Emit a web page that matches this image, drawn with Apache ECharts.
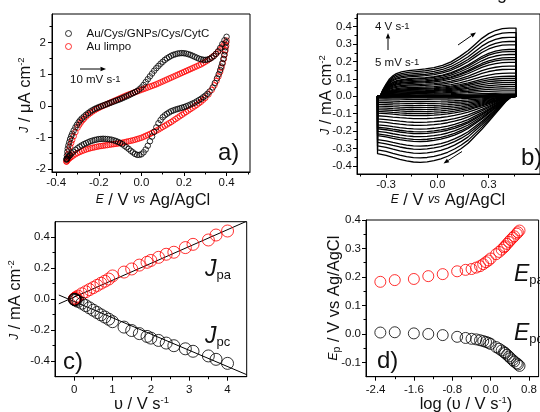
<!DOCTYPE html>
<html><head><meta charset="utf-8">
<script src="https://cdn.jsdelivr.net/npm/echarts@6/dist/echarts.min.js"></script>
<style>html,body{margin:0;padding:0;background:#fff}#c{width:540px;height:412px}</style>
</head><body><div id="c"></div>
<script>
// ---------- Panel a: CV at 10 mV/s (E / V, J / uA cm-2) ----------
const aBlackE = [-0.352,-0.350,-0.348,-0.346,-0.343,-0.339,-0.335,-0.330,-0.325,-0.318,-0.310,-0.303,-0.295,-0.288,-0.280,-0.270,-0.260,-0.250,-0.240,-0.230,-0.220,-0.210,-0.200,-0.190,-0.180,-0.170,-0.160,-0.150,-0.140,-0.130,-0.120,-0.110,-0.100,-0.090,-0.080,-0.070,-0.060,-0.050,-0.040,-0.030,-0.020,-0.010,0.000,0.010,0.020,0.030,0.040,0.050,0.060,0.070,0.080,0.090,0.100,0.110,0.120,0.130,0.140,0.150,0.160,0.170,0.180,0.190,0.200,0.210,0.220,0.230,0.240,0.250,0.260,0.270,0.280,0.290,0.300,0.310,0.320,0.330,0.340,0.350,0.360,0.370,0.380,0.390,0.400,
 0.398,0.395,0.392,0.389,0.385,0.380,0.375,0.370,0.363,0.355,0.345,0.335,0.320,0.310,0.300,0.290,0.280,0.270,0.260,0.250,0.240,0.230,0.220,0.210,0.200,0.190,0.180,0.170,0.160,0.150,0.140,0.130,0.120,0.110,0.100,0.090,0.080,0.070,0.060,0.050,0.040,0.030,0.020,0.010,0.000,-0.010,-0.020,-0.030,-0.040,-0.050,-0.060,-0.070,-0.080,-0.090,-0.100,-0.110,-0.120,-0.130,-0.140,-0.150,-0.160,-0.170,-0.180,-0.190,-0.200,-0.210,-0.220,-0.230,-0.240,-0.250,-0.260,-0.270,-0.280,-0.290,-0.300,-0.310,-0.320,-0.328,-0.335,-0.340,-0.345,-0.349,-0.352];
const aBlackJ = [-1.68,-1.57,-1.45,-1.35,-1.25,-1.15,-1.05,-0.96,-0.88,-0.78,-0.68,-0.60,-0.52,-0.46,-0.40,-0.34,-0.28,-0.23,-0.18,-0.14,-0.10,-0.07,-0.04,-0.015,0.01,0.035,0.06,0.085,0.11,0.135,0.16,0.185,0.21,0.24,0.27,0.30,0.33,0.365,0.40,0.435,0.47,0.52,0.58,0.66,0.75,0.84,0.93,1.02,1.11,1.19,1.26,1.33,1.39,1.45,1.50,1.54,1.58,1.61,1.63,1.65,1.66,1.665,1.66,1.65,1.63,1.61,1.58,1.55,1.52,1.49,1.47,1.455,1.45,1.46,1.48,1.52,1.57,1.64,1.72,1.83,1.95,2.07,2.18,
 2.00,1.85,1.72,1.60,1.48,1.35,1.24,1.13,1.00,0.87,0.72,0.58,0.45,0.38,0.32,0.27,0.22,0.18,0.14,0.10,0.07,0.04,0.01,-0.015,-0.04,-0.06,-0.08,-0.10,-0.12,-0.145,-0.17,-0.21,-0.25,-0.30,-0.36,-0.45,-0.55,-0.68,-0.82,-0.97,-1.12,-1.26,-1.38,-1.47,-1.53,-1.55,-1.55,-1.52,-1.47,-1.42,-1.36,-1.31,-1.26,-1.21,-1.17,-1.14,-1.11,-1.09,-1.07,-1.06,-1.05,-1.045,-1.04,-1.045,-1.05,-1.065,-1.08,-1.10,-1.12,-1.15,-1.18,-1.21,-1.25,-1.29,-1.34,-1.39,-1.45,-1.50,-1.55,-1.59,-1.63,-1.67,-1.70];
const aRedE = [-0.352,-0.348,-0.344,-0.340,-0.335,-0.330,-0.325,-0.318,-0.310,-0.300,-0.292,-0.285,-0.277,-0.270,-0.260,-0.250,-0.240,-0.230,-0.220,-0.210,-0.200,-0.190,-0.180,-0.170,-0.160,-0.150,-0.140,-0.130,-0.120,-0.110,-0.100,-0.090,-0.080,-0.070,-0.060,-0.050,-0.040,-0.030,-0.020,-0.010,0.000,0.010,0.020,0.030,0.040,0.050,0.060,0.070,0.080,0.090,0.100,0.110,0.120,0.130,0.140,0.150,0.160,0.170,0.180,0.190,0.200,0.210,0.220,0.230,0.240,0.250,0.260,0.270,0.280,0.290,0.300,0.310,0.320,0.330,0.340,0.350,0.360,0.370,0.380,0.390,0.400,
 0.398,0.395,0.391,0.387,0.382,0.376,0.370,0.362,0.353,0.343,0.330,0.315,0.300,0.290,0.280,0.270,0.260,0.250,0.240,0.230,0.220,0.210,0.200,0.190,0.180,0.170,0.160,0.150,0.140,0.130,0.120,0.110,0.100,0.090,0.080,0.070,0.060,0.050,0.040,0.030,0.020,0.010,0.000,-0.010,-0.020,-0.030,-0.040,-0.050,-0.060,-0.070,-0.080,-0.090,-0.100,-0.110,-0.120,-0.130,-0.140,-0.150,-0.160,-0.170,-0.180,-0.190,-0.200,-0.210,-0.220,-0.230,-0.240,-0.250,-0.260,-0.270,-0.280,-0.290,-0.300,-0.310,-0.320,-0.328,-0.335,-0.340,-0.345,-0.349,-0.352];
const aRedJ = [-1.76,-1.64,-1.52,-1.41,-1.29,-1.18,-1.08,-0.96,-0.83,-0.69,-0.60,-0.53,-0.46,-0.41,-0.34,-0.28,-0.23,-0.18,-0.14,-0.10,-0.065,-0.03,0.00,0.03,0.06,0.09,0.12,0.15,0.18,0.21,0.24,0.27,0.30,0.33,0.355,0.38,0.405,0.43,0.455,0.48,0.505,0.53,0.555,0.58,0.605,0.63,0.655,0.68,0.71,0.74,0.77,0.80,0.83,0.86,0.89,0.92,0.95,0.98,1.01,1.04,1.07,1.10,1.13,1.16,1.19,1.22,1.25,1.28,1.31,1.35,1.39,1.43,1.48,1.53,1.58,1.64,1.71,1.78,1.87,1.96,2.06,
 1.90,1.76,1.62,1.48,1.34,1.20,1.07,0.93,0.79,0.65,0.50,0.36,0.25,0.19,0.13,0.08,0.03,-0.015,-0.06,-0.105,-0.15,-0.195,-0.24,-0.285,-0.33,-0.375,-0.42,-0.465,-0.51,-0.55,-0.59,-0.63,-0.67,-0.71,-0.75,-0.785,-0.82,-0.855,-0.89,-0.92,-0.95,-0.98,-1.01,-1.03,-1.05,-1.07,-1.09,-1.105,-1.12,-1.135,-1.15,-1.165,-1.18,-1.19,-1.20,-1.21,-1.22,-1.23,-1.24,-1.25,-1.26,-1.27,-1.28,-1.295,-1.31,-1.325,-1.34,-1.36,-1.38,-1.405,-1.43,-1.46,-1.49,-1.53,-1.57,-1.61,-1.64,-1.67,-1.70,-1.73,-1.76];
const aXTicks = [-0.4,-0.2,0,0.2,0.4], aXMinor = [-0.3,-0.1,0.1,0.3,0.5];
const aYTicks = [-2,-1,0,1,2], aYMinor = [-1.5,-0.5,0.5,1.5,2.5];

// ---------- Panel b: CVs from 5 mV/s to 4 V/s (E / V, J / mA cm-2) ----------
// shape of the largest (4 V/s) voltammogram, anodic then cathodic branch
const bUpE = [-0.35,-0.335,-0.32,-0.30,-0.28,-0.26,-0.24,-0.21,-0.17,-0.12,-0.07,-0.02,0.03,0.08,0.13,0.18,0.22,0.26,0.30,0.34,0.38,0.42,0.46];
const bUpJ = [0,0,0.035,0.07,0.10,0.118,0.13,0.14,0.147,0.152,0.157,0.165,0.178,0.198,0.228,0.263,0.298,0.333,0.36,0.378,0.389,0.392,0.392];
const bDnE = [0.46,0.46,0.43,0.40,0.37,0.34,0.30,0.26,0.22,0.18,0.14,0.10,0.06,0.02,-0.02,-0.06,-0.10,-0.14,-0.18,-0.22,-0.26,-0.30,-0.35,-0.35];
const bDnJ = [0,0,-0.005,-0.03,-0.065,-0.10,-0.145,-0.19,-0.23,-0.27,-0.30,-0.325,-0.345,-0.36,-0.37,-0.377,-0.38,-0.378,-0.372,-0.363,-0.352,-0.34,-0.33,0];
// anodic plateau current of each voltammogram (5 mV/s ... 4 V/s)
const bPlateau = [0.002,0.003,0.005,0.010,0.018,0.031,0.043,0.055,0.067,0.079,0.091,0.103,0.115,0.133,0.155,0.173,0.195,0.211,0.222,0.240,0.257,0.269,0.296,0.315,0.339,0.366,0.392];
const bXTicks = [-0.3,0,0.3], bXMinor = [-0.45,-0.15,0.15,0.45];
const bYTicks = [-0.4,-0.3,-0.2,-0.1,0,0.1,0.2,0.3,0.4], bYMinor = [-0.35,-0.25,-0.15,-0.05,0.05,0.15,0.25,0.35,0.45];

// ---------- Panel c: peak currents vs scan rate ----------
const cV   = [0.005,0.01,0.025,0.05,0.1,0.2,0.3,0.4,0.5,0.6,0.7,0.8,0.9,1.0,1.3,1.5,1.7,1.9,2.0,2.2,2.4,2.6,2.9,3.1,3.5,3.7,4.0];
const cJpa = [0.002,0.003,0.006,0.011,0.020,0.035,0.048,0.062,0.075,0.089,0.103,0.116,0.130,0.150,0.175,0.195,0.220,0.238,0.250,0.270,0.290,0.303,0.333,0.354,0.382,0.414,0.440];
const cJpc = [-0.001,-0.002,-0.004,-0.007,-0.014,-0.026,-0.041,-0.056,-0.071,-0.086,-0.101,-0.115,-0.129,-0.145,-0.180,-0.202,-0.222,-0.240,-0.251,-0.266,-0.283,-0.300,-0.320,-0.336,-0.366,-0.388,-0.414];
const cFitV = [-0.4,4.5], cFitPa = [-0.030,0.503], cFitPc = [0.027,-0.487];
const cXTicks = [0,1,2,3,4], cXMinor = [0.5,1.5,2.5,3.5];
const cYTicks = [-0.4,-0.2,0,0.2,0.4], cYMinor = [-0.3,-0.1,0.1,0.3];

// ---------- Panel d: peak potentials vs log scan rate ----------
const dLogV = [-2.301,-2.0,-1.602,-1.301,-1.0,-0.699,-0.523,-0.398,-0.301,-0.222,-0.155,-0.097,-0.046,0.0,0.114,0.176,0.230,0.279,0.301,0.342,0.380,0.415,0.462,0.491,0.544,0.568,0.602];
const dEpa = [0.183,0.189,0.193,0.203,0.210,0.220,0.225,0.228,0.233,0.238,0.245,0.252,0.258,0.265,0.280,0.288,0.296,0.304,0.308,0.316,0.323,0.330,0.338,0.343,0.352,0.357,0.363];
const dEpc = [0.005,0.006,0.002,0.000,-0.004,-0.010,-0.014,-0.017,-0.019,-0.022,-0.025,-0.028,-0.031,-0.035,-0.046,-0.052,-0.058,-0.064,-0.067,-0.073,-0.079,-0.085,-0.092,-0.097,-0.103,-0.107,-0.112];
const dXTicks = [-2.4,-1.6,-0.8,0,0.8], dXMinor = [-2.0,-1.2,-0.4,0.4];
const dYTicks = [-0.1,0,0.1,0.2,0.3,0.4], dYMinor = [-0.05,0.05,0.15,0.25,0.35];

// ---------- build ----------
const FONT = 'Liberation Sans, Arial, Helvetica, sans-serif';
const RED = '#ff0000';
const zip = (a,b) => a.map((v,i)=>[v,b[i]]);
const f1 = v => (Math.abs(v)<1e-9?0:v).toFixed(1);
const f0 = v => String(Math.round(v));

function axes(dim, grid, min, max, majors, minors, fmt, margin){
  const pos = dim==='x' ? 'bottom' : 'left';
  return [{
    type:'value', gridIndex:grid, position:pos, min, max,
    axisLine:{show:true,onZero:false,lineStyle:{color:'#000',width:1}},
    axisTick:{show:true,inside:false,length:4,customValues:majors,lineStyle:{color:'#000',width:1}},
    axisLabel:{show:true,customValues:majors,margin,formatter:fmt,fontSize:11.5,color:'#111',fontFamily:FONT},
    splitLine:{show:false}
  },{
    type:'value', gridIndex:grid, position:pos, offset:0, min, max,
    axisLine:{show:false,onZero:false},
    axisTick:{show:true,inside:false,length:2.5,customValues:minors,lineStyle:{color:'#000',width:1}},
    axisLabel:{show:false}, splitLine:{show:false}
  }];
}

const xAxis = [
  ...axes('x',0,-0.42,0.51,aXTicks,aXMinor,f1,5),
  ...axes('x',1,-0.47,0.60,bXTicks,bXMinor,f1,5),
  ...axes('x',2,-0.5,4.5,cXTicks,cXMinor,f0,7),
  ...axes('x',3,-2.6,1.0,dXTicks,dXMinor,f1,7)
];
const yAxis = [
  ...axes('y',0,-2.09,2.9,aYTicks,aYMinor,f0,6),
  ...axes('y',1,-0.447,0.473,bYTicks,bYMinor,f1,5),
  ...axes('y',2,-0.5,0.5,cYTicks,cYMinor,f1,5),
  ...axes('y',3,-0.15,0.4,dYTicks,dYMinor,f1,5)
];
const gridBox = {show:true,borderColor:'#000',borderWidth:1,backgroundColor:'transparent'};
const grid = [
  {left:52, top:14, width:198, height:158, ...gridBox},
  {left:357, top:14, width:195.8, height:160, ...gridBox},
  {left:55, top:221.7, width:191.7, height:155, ...gridBox},
  {left:366, top:220, width:185.4, height:156.7, ...gridBox}
];

const open = (c,w) => ({color:'rgba(0,0,0,0)',borderColor:c,borderWidth:w||1});
const series = [];
series.push({type:'scatter',name:'Au limpo',xAxisIndex:0,yAxisIndex:0,data:zip(aRedE,aRedJ),symbol:'circle',symbolSize:5.5,itemStyle:open(RED),z:2});
series.push({type:'scatter',name:'Au/Cys/GNPs/Cys/CytC',xAxisIndex:0,yAxisIndex:0,data:zip(aBlackE,aBlackJ),symbol:'circle',symbolSize:5.5,itemStyle:open('#000'),z:3});

const bTop = bPlateau[bPlateau.length-1];
bPlateau.forEach((p,k)=>{
  const s = p/bTop;
  const data = zip(bUpE, bUpJ.map(j=>j*s)).concat(zip(bDnE, bDnJ.map(j=>j*s)));
  series.push({type:'line',xAxisIndex:2,yAxisIndex:2,data,symbol:'none',clip:true,
    lineStyle:{color:'#000',width:1.3},silent:true,z:2});
});

series.push({type:'line',xAxisIndex:4,yAxisIndex:4,data:zip(cFitV,cFitPa),symbol:'none',lineStyle:{color:'#000',width:1},clip:true,z:1});
series.push({type:'line',xAxisIndex:4,yAxisIndex:4,data:zip(cFitV,cFitPc),symbol:'none',lineStyle:{color:'#000',width:1},clip:true,z:1});
series.push({type:'scatter',xAxisIndex:4,yAxisIndex:4,data:zip(cV,cJpa),symbol:'circle',symbolSize:12,itemStyle:open(RED),z:3});
series.push({type:'scatter',xAxisIndex:4,yAxisIndex:4,data:zip(cV,cJpc),symbol:'circle',symbolSize:12,itemStyle:open('#000'),z:3});

series.push({type:'scatter',xAxisIndex:6,yAxisIndex:6,data:zip(dLogV,dEpa),symbol:'circle',symbolSize:11,itemStyle:open(RED),z:3});
series.push({type:'scatter',xAxisIndex:6,yAxisIndex:6,data:zip(dLogV,dEpc),symbol:'circle',symbolSize:11,itemStyle:open('#000'),z:3});

// ---------- texts ----------
const RICH = {
  i:{fontStyle:'italic',fontFamily:FONT},
  s:{fontSize:9.5,verticalAlign:'top',fontFamily:FONT},
  b:{fontSize:10.5,verticalAlign:'bottom',fontFamily:FONT},
  J:{fontStyle:'italic',fontSize:23,fontFamily:FONT},
  B:{fontSize:13,verticalAlign:'bottom',fontFamily:FONT}
};
function txt(text,x,y,opt){
  opt = opt||{};
  return {type:'text',x,y,rotation:opt.rot||0,z:100,silent:true,
    style:{text,fill:'#111',fontFamily:FONT,fontSize:opt.size||16.5,align:opt.align||'center',
      verticalAlign:opt.va||'middle',rich:RICH}};
}
function arrow(x1,y1,x2,y2){
  const dx=x2-x1, dy=y2-y1, L=Math.hypot(dx,dy), ux=dx/L, uy=dy/L;
  const hl=5.5, hw=2.2, bx=x2-ux*hl, by=y2-uy*hl;
  return [
    {type:'line',z:100,silent:true,shape:{x1,y1,x2:bx,y2:by},style:{stroke:'#000',lineWidth:1}},
    {type:'polygon',z:100,silent:true,shape:{points:[[x2,y2],[bx-uy*hw,by+ux*hw],[bx+uy*hw,by-ux*hw]]},style:{fill:'#000'}}
  ];
}
const PI2 = Math.PI/2;
const graphic = [
  // panel a
  txt('{i|J} / μA cm{s|-2}',25,95,{rot:PI2}),
  txt('{i|E} / V {i|vs} Ag/AgCl',153,200),
  txt('10 mV s{s|-1}',70,80,{size:11.5,align:'left'}),
  ...arrow(80,69,106,69),
  txt('a)',218,153,{size:24,align:'left'}),
  // panel b
  txt('{i|J} / mA cm{s|-2}',326,95,{rot:PI2}),
  txt('{i|E} / V {i|vs} Ag/AgCl',448,200),
  txt('4 V s{s|-1}',375,27,{size:11.5,align:'left'}),
  txt('5 mV s{s|-1}',375,63,{size:11.5,align:'left'}),
  ...arrow(388,50,388,33),
  ...arrow(458,45,476,32.5),
  ...arrow(462,151.5,443.5,163.5),
  txt('b)',521,158,{size:24,align:'left'}),
  txt('g',497,3,{size:18,align:'left',va:'bottom'}),
  // panel c
  txt('{i|J} / mA cm{s|-2}',15,300,{rot:PI2}),
  txt('υ / V s{s|-1}',141.5,404),
  txt('{J|J}{B|pa}',205,270,{align:'left'}),
  txt('{J|J}{B|pc}',205,337,{align:'left'}),
  txt('c)',63,362,{size:24,align:'left'}),
  // panel d
  txt('{i|E}{b|p} / V vs Ag/AgCl',334,298,{rot:PI2}),
  txt('log (υ / V s{s|-1})',466,404),
  txt('{J|E}{B|pa}',514,275,{align:'left'}),
  txt('{J|E}{B|pc}',514,334,{align:'left'}),
  txt('d)',377,361,{size:24,align:'left'})
];

const chart = echarts.init(document.getElementById('c'),null,{renderer:'canvas'});
chart.setOption({
  animation:false,
  backgroundColor:'#fff',
  grid, xAxis, yAxis, series, graphic,
  legend:{show:true,left:60,top:22.5,orient:'vertical',itemWidth:6,itemHeight:6,itemGap:1,icon:'circle',selectedMode:false,
    textStyle:{fontSize:11.5,fontFamily:FONT,color:'#111',lineHeight:12,padding:[0,0,0,10]},
    data:[{name:'Au/Cys/GNPs/Cys/CytC',itemStyle:open('#000')},{name:'Au limpo',itemStyle:open(RED)}]}
});
</script></body></html>
